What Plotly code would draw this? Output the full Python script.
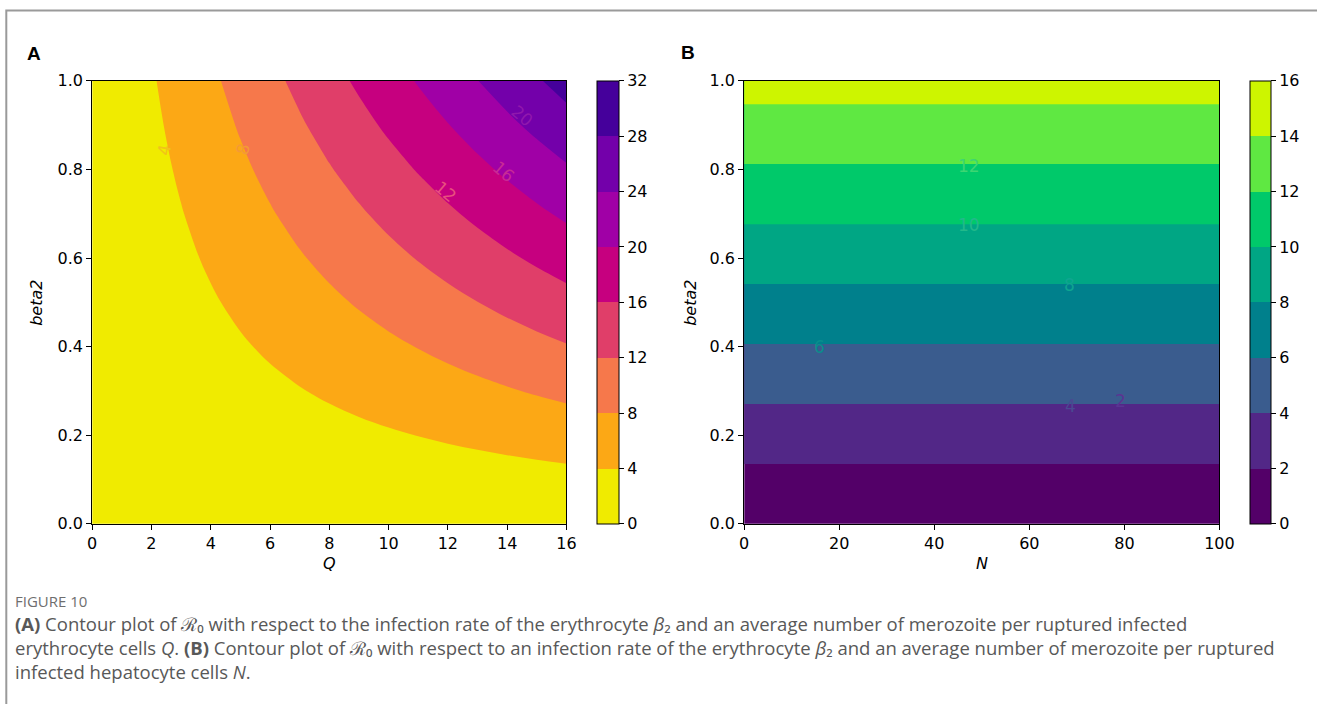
import plotly.graph_objects as go

W, H = 1317, 704

# ---------------- data ----------------
# Panel A: R0 over Q (columns) and beta2 (rows)
q_values = list(range(0, 17))
beta2_values = [0.0, 0.1, 0.2, 0.3, 0.4, 0.5, 0.6, 0.7, 0.8, 0.9, 1.0]
r0_a = [
    [0, 0.00, 0.00, 0.00, 0.00, 0.00, 0.00, 0.00, 0.00, 0.00, 0.00, 0.00, 0.00, 0.00, 0.00, 0.00, 0.00],
    [0, 0.18, 0.37, 0.55, 0.74, 0.92, 1.11, 1.29, 1.47, 1.66, 1.84, 2.03, 2.21, 2.39, 2.58, 2.76, 2.95],
    [0, 0.37, 0.74, 1.11, 1.47, 1.84, 2.21, 2.58, 2.95, 3.32, 3.68, 4.05, 4.42, 4.79, 5.16, 5.53, 5.89],
    [0, 0.55, 1.11, 1.66, 2.21, 2.76, 3.32, 3.87, 4.42, 4.97, 5.53, 6.08, 6.63, 7.18, 7.74, 8.29, 8.84],
    [0, 0.74, 1.47, 2.21, 2.95, 3.68, 4.42, 5.16, 5.89, 6.63, 7.37, 8.10, 8.84, 9.58, 10.32, 11.05, 11.79],
    [0, 0.92, 1.84, 2.76, 3.68, 4.61, 5.53, 6.45, 7.37, 8.29, 9.21, 10.13, 11.05, 11.97, 12.89, 13.82, 14.74],
    [0, 1.11, 2.21, 3.32, 4.42, 5.53, 6.63, 7.74, 8.84, 9.95, 11.05, 12.16, 13.26, 14.37, 15.47, 16.58, 17.68],
    [0, 1.29, 2.58, 3.87, 5.16, 6.45, 7.74, 9.03, 10.32, 11.60, 12.89, 14.18, 15.47, 16.76, 18.05, 19.34, 20.63],
    [0, 1.47, 2.95, 4.42, 5.89, 7.37, 8.84, 10.32, 11.79, 13.26, 14.74, 16.21, 17.68, 19.16, 20.63, 22.10, 23.58],
    [0, 1.66, 3.32, 4.97, 6.63, 8.29, 9.95, 11.60, 13.26, 14.92, 16.58, 18.24, 19.89, 21.55, 23.21, 24.87, 26.52],
    [0, 1.84, 3.68, 5.53, 7.37, 9.21, 11.05, 12.89, 14.74, 16.58, 18.42, 20.26, 22.10, 23.95, 25.79, 27.63, 29.47],
]
a_colors = ["#f0eb00", "#fca815", "#f6784b", "#e03e69", "#c6007f",
            "#a000a6", "#7300aa", "#45009b"]
a_ticks = [0, 4, 8, 12, 16, 20, 24, 28, 32]
q_ticks = [0, 2, 4, 6, 8, 10, 12, 14, 16]

# Panel B: R0 over N (columns) and beta2 (rows) - constant along N
n_values = [0, 50, 100]
r0_b_by_beta2 = [0.0, 1.48, 2.96, 4.43, 5.91, 7.39, 8.87, 10.35, 11.82, 13.30, 14.78]
b_colors = ["#530068", "#522787", "#3a5c8e", "#00808c", "#00a684",
            "#00c96a", "#5fe842", "#cdf500"]
b_ticks = [0, 2, 4, 6, 8, 10, 12, 14, 16]
n_ticks = [0, 20, 40, 60, 80, 100]

# inline contour labels (text, x, y, angle, colour)
a_lab_text = ["4", "8", "12", "16", "20"]
a_lab_q = [2.45, 5.1, 11.95, 13.9, 14.5]
a_lab_b = [0.845, 0.845, 0.75, 0.795, 0.92]
a_lab_ang = [-80, -75, 40, 40, 40]
a_lab_col = ["#f2c21a", "#f49a35", "#e8507e", "#c82a95", "#9018ad"]

b_lab_text = ["12", "10", "8", "6", "4", "2"]
b_lab_n = [47.4, 47.4, 68.4, 15.9, 68.7, 79.1]
b_lab_b = [0.808, 0.675, 0.54, 0.40, 0.266, 0.278]
b_lab_col = ["#3cd672", "#22b98a", "#0fa590", "#0a8e8c", "#4a4a92", "#5a3592"]

# ---------------- layout geometry ----------------
# the page is shown with a small offset / effective size; map target pixels
OX, WE = 3.7, 1299.0
OY, HE = 9.1, 685.7

def px_x(p):
    return (p - OX) / WE

def px_y(p):
    return 1 - (p - OY) / HE

top, bottom = 81, 524.5
ya_dom = [px_y(bottom), px_y(top)]
xa_dom = [px_x(91), px_x(566)]
xb_dom = [px_x(744), px_x(1220)]

tick_font = dict(family="DejaVu Sans", size=16, color="black")

def step_scale(colors):
    n = len(colors) - 1
    return [[i / n, c] for i, c in enumerate(colors)]

def band_scale(colors):
    n = len(colors)
    out = []
    for i, c in enumerate(colors):
        out.append([i / n, c])
        out.append([(i + 1) / n, c])
    return out

def colorbar(xpix, thick, ticks):
    return dict(
        x=px_x(xpix), xanchor="left", xpad=0, ypad=0,
        thickness=thick, thicknessmode="pixels",
        len=(bottom - top) / HE, lenmode="fraction",
        y=px_y(top), yanchor="top",
        outlinecolor="black", outlinewidth=1,
        tickmode="array", tickvals=ticks,
        ticks="outside", ticklen=5, tickcolor="black",
        tickfont=tick_font,
    )

fig = go.Figure()

fig.add_trace(go.Contour(
    x=q_values, y=beta2_values, z=r0_a,
    xaxis="x", yaxis="y",
    contours=dict(start=4, end=28, size=4, coloring="fill", showlines=False),
    line=dict(width=0, smoothing=1),
    colorscale=step_scale(a_colors),
    showscale=False,
    hoverinfo="skip",
))

z_b = [[v] * len(n_values) for v in r0_b_by_beta2]
fig.add_trace(go.Contour(
    x=n_values, y=beta2_values, z=z_b,
    xaxis="x2", yaxis="y2",
    contours=dict(start=2, end=14, size=2, coloring="fill", showlines=False),
    line=dict(width=0),
    colorscale=step_scale(b_colors),
    showscale=False,
    hoverinfo="skip",
))

# colour bars (discrete bands spanning the full level range)
fig.add_trace(go.Scatter(
    x=[None], y=[None], xaxis="x", yaxis="y", mode="markers", hoverinfo="skip",
    marker=dict(color=[a_ticks[0]], cmin=a_ticks[0], cmax=a_ticks[-1],
                colorscale=band_scale(a_colors), showscale=True,
                colorbar=colorbar(597, 22, a_ticks)),
))
fig.add_trace(go.Scatter(
    x=[None], y=[None], xaxis="x2", yaxis="y2", mode="markers", hoverinfo="skip",
    marker=dict(color=[b_ticks[0]], cmin=b_ticks[0], cmax=b_ticks[-1],
                colorscale=band_scale(b_colors), showscale=True,
                colorbar=colorbar(1251, 21, b_ticks)),
))

axis_common = dict(
    showline=True, linecolor="black", linewidth=1, mirror=True,
    ticks="outside", ticklen=5, tickcolor="black", tickwidth=1,
    showgrid=False, zeroline=False, tickfont=tick_font,
)

fig.update_layout(
    width=W, height=H, autosize=False,
    margin=dict(l=0, r=0, t=0, b=0),
    paper_bgcolor="white", plot_bgcolor="white",
    showlegend=False,
    xaxis=dict(domain=xa_dom, range=[0, 16], tickmode="array",
               tickvals=q_ticks, anchor="y", **axis_common),
    yaxis=dict(domain=ya_dom, range=[0, 1], tickmode="array",
               tickvals=[0, 0.2, 0.4, 0.6, 0.8, 1.0], tickformat=".1f",
               anchor="x", **axis_common),
    xaxis2=dict(domain=xb_dom, range=[0, 100], tickmode="array",
                tickvals=n_ticks, anchor="y2", **axis_common),
    yaxis2=dict(domain=ya_dom, range=[0, 1], tickmode="array",
                tickvals=[0, 0.2, 0.4, 0.6, 0.8, 1.0], tickformat=".1f",
                anchor="x2", **axis_common),
)

def paper_text(xp, yp, text, font, xanchor="center", angle=0, align="center"):
    return dict(x=px_x(xp), y=px_y(yp), xref="paper", yref="paper",
                xanchor=xanchor, yanchor="middle", text=text, textangle=angle,
                align=align, showarrow=False, font=font)

ann = []
# contour labels
for t, xq, yb, ang, col in zip(a_lab_text, a_lab_q, a_lab_b, a_lab_ang, a_lab_col):
    ann.append(dict(x=xq, y=yb, xref="x", yref="y", text=t, showarrow=False,
                    xanchor="center", yanchor="middle", textangle=ang,
                    font=dict(family="DejaVu Sans", size=17, color=col)))
for t, xn, yb, col in zip(b_lab_text, b_lab_n, b_lab_b, b_lab_col):
    ann.append(dict(x=xn, y=yb, xref="x2", yref="y2", text=t, showarrow=False,
                    xanchor="center", yanchor="middle",
                    font=dict(family="DejaVu Sans", size=17, color=col)))

# axis titles
axt_font = dict(family="DejaVu Sans", size=16, color="black")
ann += [
    paper_text(328.5, 564, "<i>Q</i>", axt_font),
    paper_text(982, 564, "<i>N</i>", axt_font),
    paper_text(35, 303, "<i>beta2</i>", axt_font, angle=-90),
    paper_text(690, 303, "<i>beta2</i>", axt_font, angle=-90),
]
# panel letters
pl_font = dict(family="Liberation Sans", size=19, color="black")
ann += [
    paper_text(24, 53.5, "<b>A</b>", pl_font, xanchor="left"),
    paper_text(679, 52.5, "<b>B</b>", pl_font, xanchor="left"),
]
# caption
cap_font = dict(family="Open Sans", size=18.5, color="#585858")
caption_lines = [
    "<b>(A)</b> Contour plot of \u211B\u2080 with respect to the infection rate of the erythrocyte "
    "<i>\u03b2</i>\u2082 and an average number of merozoite per ruptured infected",
    "erythrocyte cells <i>Q</i>. <b>(B)</b> Contour plot of \u211B\u2080 with respect to an infection "
    "rate of the erythrocyte <i>\u03b2</i>\u2082 and an average number of merozoite per ruptured",
    "infected hepatocyte cells <i>N</i>.",
]
ann.append(paper_text(12, 602, "FIGURE 10",
                      dict(family="Open Sans", size=15, color="#6e6e6e"), xanchor="left"))
ann.append(paper_text(12, 648, "<br>".join(caption_lines), cap_font,
                      xanchor="left", align="left"))

fig.update_layout(annotations=ann)

# outer frame
fig.add_shape(type="rect", xref="paper", yref="paper",
              x0=px_x(5), x1=1.2, y0=-0.2, y1=px_y(10.5),
              line=dict(color="#9a9a9a", width=2), fillcolor="rgba(0,0,0,0)", layer="below")

fig.write_html("out.html")
